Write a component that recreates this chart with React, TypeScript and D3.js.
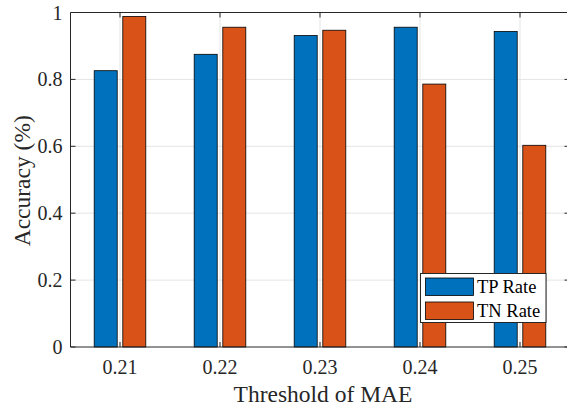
import React from "react";
import * as d3 from "d3";

// Thresholds and detection rates per threshold
const thresholds = [0.21, 0.22, 0.23, 0.24, 0.25];
const thresholdLabels = ["0.21", "0.22", "0.23", "0.24", "0.25"];
const tpRate = [0.826, 0.875, 0.931, 0.956, 0.943];
const tnRate = [0.988, 0.956, 0.947, 0.786, 0.603];
const seriesNames = ["TP Rate", "TN Rate"];
const yTicks = [0, 0.2, 0.4, 0.6, 0.8, 1];
const yTickLabels = ["0", "0.2", "0.4", "0.6", "0.8", "1"];

const W = 567;
const H = 406;
const left = 70.5;
const right = 569.5;
const top = 12.5;
const bottom = 347;

const colors = ["#0072BD", "#D95319"];
const axisColor = "#262626";
const gridColor = "#e5e5e5";
const serif = { fontFamily: "Liberation Serif" };

export default function App() {
  const x = d3.scaleLinear().domain([0.205, 0.255]).range([left - 0.5, right + 0.5]);
  const y = d3.scaleLinear().domain([0, 1]).range([bottom, top]);
  const step = x(0.22) - x(0.21);
  const barW = step * 0.23;
  const offset = step * 0.143;
  const series = [tpRate, tnRate];

  return (
    <svg
      width={W}
      height={H}
      style={{ position: "absolute", left: 0, top: 0, background: "#fff" }}
    >
      {/* grid */}
      {thresholds.map((t) => (
        <line key={"gx" + t} x1={x(t)} x2={x(t)} y1={top} y2={bottom} stroke={gridColor} strokeWidth={1} />
      ))}
      {yTicks.slice(1, -1).map((v) => (
        <line key={"gy" + v} x1={left} x2={right} y1={y(v)} y2={y(v)} stroke={gridColor} strokeWidth={1} />
      ))}

      {/* bars */}
      {series.map((vals, si) =>
        vals.map((v, i) => {
          const cx = x(thresholds[i]) + (si === 0 ? -offset : offset);
          return (
            <rect
              key={`b${si}-${i}`}
              x={cx - barW / 2}
              y={y(v)}
              width={barW}
              height={y(0) - y(v)}
              fill={colors[si]}
              stroke="#000"
              strokeWidth={0.8}
            />
          );
        })
      )}

      {/* axes box */}
      <line x1={left} x2={right} y1={top} y2={top} stroke={axisColor} strokeWidth={1} />
      <line x1={left} x2={right} y1={bottom} y2={bottom} stroke={axisColor} strokeWidth={1} />
      <line x1={left} x2={left} y1={top} y2={bottom} stroke={axisColor} strokeWidth={1} />
      <line x1={right} x2={right} y1={top} y2={bottom} stroke={axisColor} strokeWidth={1} />

      {/* ticks */}
      {thresholds.map((t) => (
        <g key={"tx" + t}>
          <line x1={x(t)} x2={x(t)} y1={bottom} y2={bottom - 5} stroke={axisColor} />
          <line x1={x(t)} x2={x(t)} y1={top} y2={top + 5} stroke={axisColor} />
        </g>
      ))}
      {yTicks.map((v) => (
        <g key={"ty" + v}>
          <line x1={left} x2={left + 5} y1={y(v)} y2={y(v)} stroke={axisColor} />
          <line x1={right} x2={right - 5} y1={y(v)} y2={y(v)} stroke={axisColor} />
        </g>
      ))}

      {/* tick labels */}
      {thresholds.map((t, i) => (
        <text
          key={"lx" + t}
          x={x(t)}
          y={374}
          textAnchor="middle"
          style={serif}
          fontSize={20}
          fill={axisColor}
        >
          {thresholdLabels[i]}
        </text>
      ))}
      {yTicks.map((v, i) => (
        <text
          key={"ly" + v}
          x={left - 8}
          y={y(v) + 7}
          textAnchor="end"
          style={serif}
          fontSize={20}
          fill={axisColor}
        >
          {yTickLabels[i]}
        </text>
      ))}

      {/* axis labels */}
      <text
        x={323}
        y={401.5}
        textAnchor="middle"
        style={serif}
        fontSize={23.5}
        fill={axisColor}
      >
        Threshold of MAE
      </text>
      <text
        transform={`translate(29.5, ${(top + bottom) / 2 + 1}) rotate(-90)`}
        textAnchor="middle"
        style={serif}
        fontSize={23.5}
        fill={axisColor}
      >
        Accuracy (%)
      </text>

      {/* legend */}
      <g>
        <rect x={420.5} y={273.5} width={125.5} height={49} fill="#fff" stroke={axisColor} strokeWidth={1} />
        {seriesNames.map((name, i) => (
          <g key={name}>
            <rect
              x={425.5}
              y={278 + i * 24}
              width={48}
              height={17.5}
              fill={colors[i]}
              stroke="#000"
              strokeWidth={0.8}
            />
            <text
              x={477}
              y={293 + i * 24}
              style={serif}
              fontSize={18.5}
              fill="#000"
            >
              {name}
            </text>
          </g>
        ))}
      </g>
    </svg>
  );
}
